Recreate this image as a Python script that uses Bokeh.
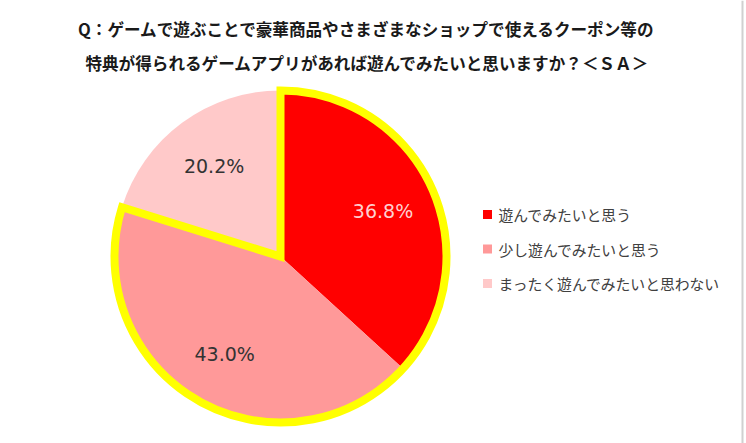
import math
from bokeh.plotting import figure
from bokeh.models import Range1d, ColumnDataSource
from bokeh.core.properties import value
from bokeh.embed import file_html
from bokeh.resources import INLINE

# ---- data ----
categories = ["遊んでみたいと思う", "少し遊んでみたいと思う", "まったく遊んでみたいと思わない"]
values = [36.8, 43.0, 20.2]
colors = ["#FF0000", "#FF9999", "#FFC9C9"]
label_colors = ["#FFD0D0", "#333333", "#333333"]
title_lines = ["Q：ゲームで遊ぶことで豪華商品やさまざまなショップで使えるクーポン等の",
               "特典が得られるゲームアプリがあれば遊んでみたいと思いますか？＜ＳＡ＞"]
highlight_count = 2  # first two slices outlined in yellow

W, H = 746, 443
def Y(py):
    return H - py

p = figure(width=W, height=H, x_range=Range1d(0, W), y_range=Range1d(0, H),
           output_backend="svg", toolbar_location=None, min_border=0)
p.axis.visible = False
p.grid.visible = False
p.outline_line_color = None
p.background_fill_color = "white"
p.border_fill_color = "white"

cx, cy, r = 280, Y(256), 166
total = sum(values)
cum = [0]
for v in values:
    cum.append(cum[-1] + v / total)

starts = [math.pi / 2 - cum[i + 1] * 2 * math.pi for i in range(len(values))]
ends = [math.pi / 2 - cum[i] * 2 * math.pi for i in range(len(values))]
src = ColumnDataSource(dict(start=starts, end=ends, color=colors))
p.wedge(x=cx, y=cy, radius=r, start_angle="start", end_angle="end",
        fill_color="color", line_color=None, source=src)

# yellow outline around highlighted slices
p.wedge(x=cx, y=cy, radius=r, start_angle=math.pi / 2 - cum[highlight_count] * 2 * math.pi,
        end_angle=math.pi / 2, fill_color=None, line_color="#FFFF00", line_width=8,
        line_join="miter")

# percentage labels
lx, ly, lt = [], [], []
for i, v in enumerate(values):
    mid = (cum[i] + cum[i + 1]) / 2 * 2 * math.pi
    lx.append(cx + 112 * math.sin(mid))
    ly.append(cy + 112 * math.cos(mid))
    lt.append(f"{v:.1f}%")
p.text(x=lx, y=ly, text=lt, text_color=label_colors, text_font=value("DejaVu Sans"),
       text_font_size="19px", text_align="center", text_baseline="middle")

# legend
leg_y = [Y(214 + 34.5 * i) for i in range(len(categories))]
p.scatter(x=[487] * len(categories), y=leg_y, marker="square", size=9,
          fill_color=colors, line_color=None)
p.text(x=[498] * len(categories), y=leg_y, text=categories, text_color="#404040",
       text_font=value("Noto Sans CJK JP"), text_font_size="14.8px",
       text_align="left", text_baseline="middle")

# title
p.text(x=[366, 367], y=[Y(28), Y(62)], text=title_lines, text_color="#1a1a1a",
       text_font=value("Noto Sans CJK JP"), text_font_style="bold", text_font_size="16.6px",
       text_align="center", text_baseline="middle")

# right frame line
p.segment(x0=[742], y0=[0], x1=[742], y1=[H], line_color="#d0d0d0", line_width=2)

open("out.html", "w").write(file_html(p, INLINE))
